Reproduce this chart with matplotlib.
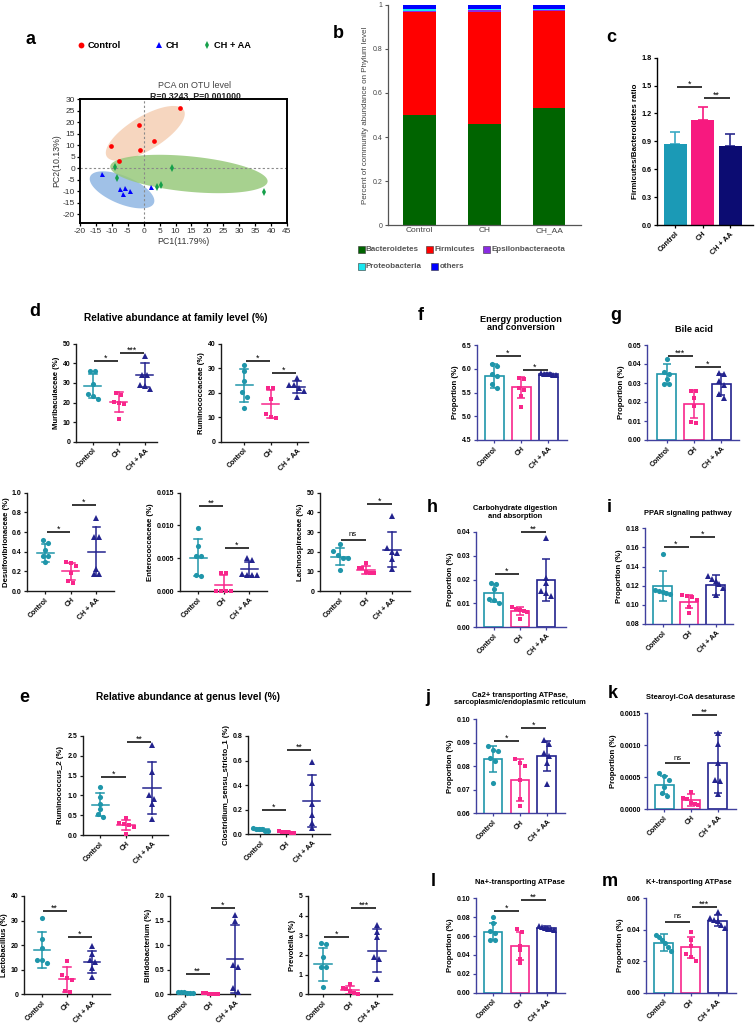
import numpy as np
import matplotlib
matplotlib.use("Agg")
import matplotlib.pyplot as plt
from matplotlib.patches import Rectangle, Polygon

W, H = 756, 1026
plt.rcParams['font.family'] = ['Liberation Sans', 'DejaVu Sans']
plt.rcParams['axes.unicode_minus'] = False

groups = ["Control", "CH", "CH + AA"]

# ---------------- panel a : PCA ----------------
pca_ctrl_x = [11.5, -1.4, 3.1, -10.4, -1.3, -7.8]
pca_ctrl_y = [26.0, 18.7, 12.0, 9.5, 8.0, 3.0]
pca_ch_x = [-13.0, -7.3, -5.8, -4.3, -6.4, 2.3]
pca_ch_y = [-2.3, -9.1, -8.7, -9.9, -11.2, -8.1]
pca_aa_x = [-9.0, -8.4, 8.9, 4.3, 5.5, 37.9]
pca_aa_y = [0.7, -4.1, 0.3, -8.1, -7.3, -10.2]
# ellipse: centre x, centre y, semi-axis 1 (dx, dy), semi-axis 2 (dx, dy)
ell_ctrl = [0.5, 15.2, 12.1, 10.1, 2.7, -6.3]
ell_ch = [-6.8, -9.4, 10.0, -5.8, -1.7, -5.6]
ell_aa = [14.2, -2.5, 24.7, -3.0, -0.5, 7.8]

# ---------------- panel b : phylum composition ----------------
phylum_groups = ["Control", "CH", "CH_AA"]
phyla = ["Bacteroidetes", "Firmicutes", "Epsilonbacteraeota", "Proteobacteria", "others"]
bacteroidetes = [0.500, 0.458, 0.533]
firmicutes = [0.466, 0.508, 0.440]
epsilonbacteraeota = [0.006, 0.009, 0.002]
proteobacteria = [0.010, 0.007, 0.007]
others = [0.018, 0.018, 0.018]

# ---------------- panel c : F/B ratio ----------------
fb_mean = [0.875, 1.135, 0.848]
fb_sd = [0.125, 0.135, 0.135]

# ---------------- panel d : family level ----------------
muri_pts = [[36, 36, 29.5, 24.5, 23.5, 22], [25, 24, 20.5, 20, 19, 11.5], [43.5, 34, 34, 29, 28.5, 27]]
muri_mean = [28.6, 20.4, 34.2]
muri_sd = [6.1, 5.1, 6.1]
rumi_pts = [[31.3, 29, 24.8, 20.2, 18.4, 13.9], [21.8, 21.8, 17.3, 11.5, 10, 9.5], [25.9, 23, 23, 22, 20.5, 18.4]]
rumi_mean = [23.0, 15.3, 22.2]
rumi_sd = [6.7, 5.6, 2.4]
desulfo_pts = [[0.52, 0.49, 0.42, 0.36, 0.36, 0.30], [0.29, 0.28, 0.25, 0.18, 0.10, 0.08], [0.74, 0.55, 0.55, 0.22, 0.17, 0.17]]
desulfo_mean = [0.39, 0.20, 0.40]
desulfo_sd = [0.09, 0.085, 0.25]
entero_pts = [[0.0096, 0.0069, 0.0053, 0.0053, 0.0025, 0.0023], [0.0028, 0.0027, 0, 0, 0, 0], [0.0051, 0.0048, 0.0026, 0.0024, 0.0024, 0.0024]]
entero_mean = [0.0051, 0.0009, 0.0034]
entero_sd = [0.0028, 0.0015, 0.0011]
lachno_pts = [[23.9, 20.3, 18.3, 16.6, 16.6, 10.7], [14.4, 11.5, 11.5, 9.8, 9.3, 9.0], [38.3, 21.7, 20, 19.2, 16.1, 11]]
lachno_mean = [17.4, 10.9, 21.0]
lachno_sd = [4.3, 2.0, 9.0]

# ---------------- panel e : genus level ----------------
rum2_pts = [[1.2, 0.97, 0.78, 0.65, 0.52, 0.45], [0.42, 0.30, 0.28, 0.25, 0.20, 0.03], [2.27, 1.6, 1.01, 0.91, 0.78, 0.4]]
rum2_mean = [0.77, 0.25, 1.18]
rum2_sd = [0.28, 0.13, 0.66]
clos_pts = [[0.05, 0.045, 0.04, 0.04, 0.03, 0.03], [0.025, 0.02, 0.02, 0.015, 0.01, 0.01], [0.59, 0.42, 0.25, 0.16, 0.09, 0.05]]
clos_mean = [0.04, 0.017, 0.27]
clos_sd = [0.01, 0.006, 0.21]
lacto_pts = [[31.2, 22.4, 18.7, 14, 14, 12.6], [13.7, 7.8, 6.5, 6.0, 1.5, 1.0], [19.7, 16.4, 14, 13, 10.6, 7.2]]
lacto_mean = [18.0, 6.1, 13.3]
lacto_sd = [7.5, 5.0, 4.5]
bifido_pts = [[0.05, 0.04, 0.04, 0.03, 0.02, 0.02], [0.02, 0.02, 0.01, 0.01, 0.01, 0.01], [1.61, 1.5, 0.6, 0.56, 0.12, 0.05]]
bifido_mean = [0.033, 0.013, 0.72]
bifido_sd = [0.012, 0.005, 0.69]
prev_pts = [[2.63, 2.54, 1.88, 1.4, 1.37, 0.39], [0.53, 0.3, 0.25, 0.15, 0.06, 0.03], [3.53, 3.19, 2.9, 1.9, 1.78, 0.76]]
prev_mean = [1.53, 0.22, 2.22]
prev_sd = [0.85, 0.18, 1.09]

# ---------------- panels f-m : predicted functions ----------------
energy_pts = [[6.09, 6.06, 5.88, 5.85, 5.67, 5.60], [5.80, 5.79, 5.60, 5.55, 5.43, 5.20], [5.92, 5.90, 5.89, 5.88, 5.87, 5.86]]
energy_mean = [5.85, 5.61, 5.89]
energy_sd = [0.26, 0.22, 0.03]
bile_pts = [[0.0426, 0.036, 0.035, 0.032, 0.0295, 0.0295], [0.0258, 0.0258, 0.022, 0.018, 0.0096, 0.0088], [0.0351, 0.0348, 0.031, 0.029, 0.024, 0.022]]
bile_mean = [0.0347, 0.0189, 0.0293]
bile_sd = [0.0051, 0.0074, 0.0054]
carb_pts = [[0.0187, 0.0181, 0.016, 0.0117, 0.0113, 0.0100], [0.0085, 0.0078, 0.0072, 0.0070, 0.0065, 0.0034], [0.0372, 0.0205, 0.0184, 0.0153, 0.0142, 0.0130]]
carb_mean = [0.0142, 0.0068, 0.0198]
carb_sd = [0.0038, 0.0018, 0.0088]
ppar_pts = [[0.153, 0.116, 0.114, 0.113, 0.112, 0.111], [0.110, 0.109, 0.108, 0.105, 0.098, 0.091], [0.130, 0.127, 0.125, 0.122, 0.118, 0.110]]
ppar_mean = [0.1197, 0.1033, 0.1208]
ppar_sd = [0.016, 0.007, 0.0104]
ca_pts = [[0.0886, 0.0869, 0.0865, 0.0835, 0.0823, 0.073], [0.083, 0.0813, 0.080, 0.074, 0.066, 0.0631], [0.0912, 0.0895, 0.0858, 0.0845, 0.0813, 0.0725]]
ca_mean = [0.0831, 0.0742, 0.0844]
ca_sd = [0.0055, 0.0088, 0.0065]
scd_pts = [[0.00057, 0.00051, 0.00045, 0.00035, 0.00025, 0.00020], [0.00027, 0.00017, 0.00015, 0.00010, 0.00008, 0.00007], [0.00119, 0.00102, 0.00072, 0.00046, 0.00044, 0.00024]]
scd_mean = [0.000376, 0.000141, 0.000726]
scd_sd = [0.000146, 0.00009, 0.00047]
na_pts = [[0.080, 0.0735, 0.065, 0.063, 0.056, 0.056], [0.067, 0.064, 0.050, 0.045, 0.036, 0.031], [0.071, 0.070, 0.069, 0.068, 0.068, 0.066]]
na_mean = [0.0647, 0.0495, 0.0689]
na_sd = [0.0088, 0.0152, 0.0018]
kk_pts = [[0.0367, 0.0355, 0.0335, 0.0315, 0.029, 0.0265], [0.0388, 0.0335, 0.030, 0.0245, 0.0229, 0.0201], [0.0515, 0.0475, 0.0465, 0.0455, 0.043, 0.041]]
kk_mean = [0.0318, 0.0288, 0.0458]
kk_sd = [0.0055, 0.0068, 0.0036]

# significance annotations: (group a, group b, height, label)
muri_sig = [(0, 1, 41.2, '*'), (1, 2, 45.4, '***')]
rumi_sig = [(0, 1, 33.0, '*'), (1, 2, 28.2, '*')]
desulfo_sig = [(0, 1, 0.60, '*'), (1, 2, 0.87, '*')]
entero_sig = [(0, 1, 0.0129, '**'), (1, 2, 0.0065, '*')]
lachno_sig = [(0, 1, 26.0, 'ns'), (1, 2, 44.3, '*')]
rum2_sig = [(0, 1, 1.46, '*'), (1, 2, 2.36, '**')]
clos_sig = [(0, 1, 0.20, '*'), (1, 2, 0.69, '**')]
lacto_sig = [(0, 1, 33.9, '**'), (1, 2, 23.5, '*')]
bifido_sig = [(0, 1, 0.41, '**'), (1, 2, 1.75, '*')]
prev_sig = [(0, 1, 2.9, '*'), (1, 2, 4.37, '***')]
energy_sig = [(0, 1, 6.27, '*'), (1, 2, 5.97, '*')]
bile_sig = [(0, 1, 0.0444, '***'), (1, 2, 0.0386, '*')]
carb_sig = [(0, 1, 0.0222, '*'), (1, 2, 0.040, '**')]
ppar_sig = [(0, 1, 0.1608, '*'), (1, 2, 0.1712, '*')]
ca_sig = [(0, 1, 0.0909, '*'), (1, 2, 0.0962, '*')]
scd_sig = [(0, 1, 0.000716, 'ns'), (1, 2, 0.00148, '**')]
na_sig = [(0, 1, 0.0866, '*'), (1, 2, 0.0982, '**')]
kk_sig = [(0, 1, 0.0452, 'ns'), (1, 2, 0.0543, '***')]
fb_sig = [(0, 1, 1.49, '*'), (1, 2, 1.37, '**')]

# ======================================================================
fig = plt.figure(figsize=(W / 100, H / 100), dpi=100)

GCOL = ['#1f96aa', '#f8268b', '#23238e']
GMARK = ['o', 's', '^']


def add_ax(box):
    l, t, r, b = box
    return fig.add_axes([l / W, 1 - b / H, (r - l) / W, (b - t) / H])


def gp_style(ax, xlim, ylim, ticks, fmt, ylabel, spine='#1a1a1a'):
    ax.set_xlim(*xlim)
    ax.set_ylim(*ylim)
    ax.patch.set_alpha(0)
    for s in ['top', 'right']:
        ax.spines[s].set_visible(False)
    for s in ['left', 'bottom']:
        ax.spines[s].set_color(spine)
        ax.spines[s].set_linewidth(1.0)
    ax.tick_params(direction='out', length=2.5, width=0.9, color=spine, labelcolor='black', pad=1.5)
    ax.set_yticks(ticks, labels=[fmt % t for t in ticks], fontsize=5, fontweight='bold')
    ax.set_xticks([0, 1, 2], labels=groups, rotation=45, ha='right', rotation_mode='anchor',
                  fontsize=5, fontweight='bold')
    ax.set_ylabel(ylabel, fontsize=5.6, fontweight='bold', labelpad=2)


def swarm(ax, i, vals, d=5.0, maxw=15.0):
    trans = ax.transData
    inv = trans.inverted()
    vals = np.asarray(vals, float)
    order = np.argsort(-vals)
    ypx = np.array([trans.transform((i, v))[1] for v in vals])
    x0 = trans.transform((i, 0))[0]
    clusters = []
    for idx in order:
        if clusters and abs(ypx[clusters[-1][-1]] - ypx[idx]) < d * 0.9:
            clusters[-1].append(idx)
        else:
            clusters.append([idx])
    xs = np.zeros(len(vals))
    for cl in clusters:
        n = len(cl)
        step = d if n < 2 else min(d, maxw / (n - 1))
        for k, idx in enumerate(cl):
            off = (k - (n - 1) / 2) * step
            xs[idx] = inv.transform((x0 + off, ypx[idx]))[0]
    return xs


def draw_points(ax, pts, ms=3.7):
    for i, vals in enumerate(pts):
        xs = swarm(ax, i, vals)
        ax.plot(xs, vals, linestyle='none', marker=GMARK[i], color=GCOL[i],
                markersize=ms if GMARK[i] != 's' else ms * 0.95, markeredgewidth=0, zorder=3, clip_on=False)


def draw_sig(ax, sig):
    for a, b, y, txt in sig:
        ax.plot([a + 0.05, b - 0.02], [y, y], color='black', lw=1.1, clip_on=False, zorder=5,
                solid_capstyle='butt')
        if txt == 'ns':
            ax.annotate(txt, xy=((a + b) / 2, y), xytext=(0, 1.0), textcoords='offset points',
                        ha='center', va='bottom', fontsize=5.5, annotation_clip=False)
        else:
            ax.annotate(txt, xy=((a + b) / 2, y), xytext=(0, 0.2), textcoords='offset points',
                        ha='center', va='baseline', fontsize=6.3, annotation_clip=False)


def scatter_panel(box, xlim, ylim, ticks, fmt, ylabel, pts, mean, sd, sig, labelpad=2):
    ax = add_ax(box)
    gp_style(ax, xlim, ylim, ticks, fmt, ylabel)
    ax.yaxis.labelpad = labelpad
    draw_points(ax, pts)
    for i in range(3):
        c = GCOL[i]
        m, s = mean[i], sd[i]
        ax.plot([i - 0.33, i + 0.33], [m, m], color=c, lw=1.1, zorder=4)
        ax.plot([i, i], [max(m - s, ylim[0]), m + s], color=c, lw=1.1, zorder=4)
        ax.plot([i - 0.15, i + 0.15], [m + s, m + s], color=c, lw=1.1, zorder=4)
        if m - s >= ylim[0]:
            ax.plot([i - 0.15, i + 0.15], [m - s, m - s], color=c, lw=1.1, zorder=4)
    draw_sig(ax, sig)
    return ax


def bar_panel(box, xlim, ylim, ticks, fmt, pts, mean, sd, sig):
    ax = add_ax(box)
    gp_style(ax, xlim, ylim, ticks, fmt, 'Proportion (%)', spine='#40409e')
    ax.bar([0, 1, 2], mean, width=0.7, facecolor='white', edgecolor=GCOL, linewidth=1.2, zorder=2)
    draw_points(ax, pts)
    for i in range(3):
        ax.errorbar([i], [mean[i]], yerr=[sd[i]], fmt='none', ecolor=GCOL[i], elinewidth=1.1,
                    capsize=3, capthick=1.1, zorder=4)
    draw_sig(ax, sig)
    return ax


# ---------------- panel a ----------------
axa = add_ax((80, 99.3, 287, 222.7))
axa.set_xlim(-20, 45)
axa.set_ylim(-23.7, 30)
for data, col in [(ell_ctrl, '#f5cfb4'), (ell_ch, '#8fb6e3'), (ell_aa, '#98c97c')]:
    cx, cy, ax1, ay1, bx1, by1 = data
    t = np.linspace(0, 2 * np.pi, 200)
    xs = cx + np.cos(t) * ax1 + np.sin(t) * bx1
    ys = cy + np.cos(t) * ay1 + np.sin(t) * by1
    axa.add_patch(Polygon(np.column_stack([xs, ys]), closed=True, facecolor=col, edgecolor='none',
                          alpha=0.85, zorder=1))
axa.axvline(0, color='#8a8a8a', lw=0.8, ls=(0, (2, 2)), zorder=2)
axa.axhline(0, color='#8a8a8a', lw=0.8, ls=(0, (2, 2)), zorder=2)
axa.plot(pca_ctrl_x, pca_ctrl_y, 'o', color='#ff0000', ms=3.4, mew=0, zorder=3)
axa.plot(pca_ch_x, pca_ch_y, '^', color='#0000ff', ms=3.6, mew=0, zorder=3)
axa.plot(pca_aa_x, pca_aa_y, 'd', color='#15a04a', ms=3.8, mew=0, zorder=3)
for s in axa.spines.values():
    s.set_linewidth(1.4)
    s.set_color('black')
axa.set_xticks(np.arange(-20, 46, 5))
axa.set_yticks(np.arange(-20, 31, 5))
axa.tick_params(direction='out', length=2.5, width=0.9, labelsize=6, labelcolor='#333333', pad=1)
axa.set_xlabel('PC1(11.79%)', fontsize=6.3, color='#333333', labelpad=2)
axa.set_ylabel('PC2(10.13%)', fontsize=6.3, color='#333333', labelpad=1)

# ---------------- panel b ----------------
axb = add_ax((387.7, 4.7, 581, 225.3))
phy_vals = [bacteroidetes, firmicutes, epsilonbacteraeota, proteobacteria, others]
phy_cols = ['#006400', '#ff0000', '#8a2be2', '#19e6ef', '#0000ff']
bottom = np.zeros(3)
for vals, col in zip(phy_vals, phy_cols):
    axb.bar([0, 1, 2], vals, bottom=bottom, width=0.5, color=col, edgecolor='none')
    bottom += np.array(vals)
axb.set_xlim(-0.49, 2.49)
axb.set_ylim(0, 1)
for s in ['top', 'right']:
    axb.spines[s].set_visible(False)
for s in ['left', 'bottom']:
    axb.spines[s].set_color('#555555')
    axb.spines[s].set_linewidth(0.9)
axb.set_yticks([0, 0.2, 0.4, 0.6, 0.8, 1.0], labels=['0', '0.2', '0.4', '0.6', '0.8', '1'])
axb.set_xticks([0, 1, 2], labels=phylum_groups)
axb.tick_params(axis='y', direction='out', length=2.5, color='#555555', labelsize=5, labelcolor='#444444', pad=1)
axb.tick_params(axis='x', length=0, labelsize=6, labelcolor='#444444', pad=1.5)
axb.set_ylabel('Percent of community abundance on Phylum level', fontsize=5.8, color='#444444', labelpad=3)

# ---------------- panel c ----------------
axc = add_ax((657.3, 57.7, 753, 225))
axc.set_xlim(-0.66, 2.83)
axc.set_ylim(0, 1.8)
axc.bar([0, 1, 2], fb_mean, width=0.85, color=['#1b9ab6', '#f7197f', '#0c0c72'], zorder=2)
for i in range(3):
    axc.errorbar([i], [fb_mean[i]], yerr=[[0], [fb_sd[i]]], fmt='none',
                 ecolor=['#3aa9c4', '#f7197f', '#2a2a8c'][i], elinewidth=1.2, capsize=3.6, capthick=1.2, zorder=1)
for s in ['top', 'right']:
    axc.spines[s].set_visible(False)
for s in ['left', 'bottom']:
    axc.spines[s].set_linewidth(1.0)
axc.tick_params(direction='out', length=2.5, width=0.9, pad=1.5)
axc.set_yticks(np.arange(0, 1.81, 0.3), labels=['%.1f' % v for v in np.arange(0, 1.81, 0.3)],
               fontsize=5.2, fontweight='bold')
axc.set_xticks([0, 1, 2], labels=groups, rotation=45, ha='right', rotation_mode='anchor',
               fontsize=5.2, fontweight='bold')
axc.set_ylabel('Firmicutes/Bacteroidetes ratio', fontsize=5.8, fontweight='bold', labelpad=2)
draw_sig(axc, fb_sig)

# ---------------- panel d ----------------
scatter_panel((76, 343.7, 156.7, 441.7), (-0.64, 2.46), (0, 50), np.arange(0, 51, 10), '%d',
              'Muribaculaceae (%)', muri_pts, muri_mean, muri_sd, muri_sig)
scatter_panel((221, 343.7, 308.3, 441.7), (-0.89, 2.44), (0, 40), np.arange(0, 41, 10), '%d',
              'Ruminococcaceae (%)', rumi_pts, rumi_mean, rumi_sd, rumi_sig)
scatter_panel((27, 492.7, 114.3, 591), (-0.72, 2.7), (0, 1.0), np.arange(0, 1.01, 0.2), '%.1f',
              'Desulfovibrionaceae (%)', desulfo_pts, desulfo_mean, desulfo_sd, desulfo_sig, labelpad=1)
scatter_panel((180, 492.7, 266.7, 591), (-0.71, 2.69), (0, 0.015), np.arange(0, 0.0151, 0.005), '%.3f',
              'Enterococcaceae (%)', entero_pts, entero_mean, entero_sd, entero_sig)
scatter_panel((320, 492.7, 410, 591), (-0.77, 2.69), (0, 50), np.arange(0, 51, 10), '%d',
              'Lachnospiraceae (%)', lachno_pts, lachno_mean, lachno_sd, lachno_sig)

# ---------------- panel e ----------------
scatter_panel((82.7, 736, 168.3, 835), (-0.67, 2.63), (0, 2.5), np.arange(0, 2.51, 0.5), '%.1f',
              'Ruminococcus_2 (%)', rum2_pts, rum2_mean, rum2_sd, rum2_sig)
scatter_panel((248.3, 736, 330, 834.3), (-0.47, 2.7), (0, 0.8), np.arange(0, 0.81, 0.2), '%.1f',
              'Clostridium_sensu_stricto_1 (%)', clos_pts, clos_mean, clos_sd, clos_sig)
scatter_panel((24, 896, 110, 994.3), (-0.72, 2.72), (0, 40), np.arange(0, 41, 10), '%d',
              'Lactobacillus (%)', lacto_pts, lacto_mean, lacto_sd, lacto_sig, labelpad=1.5)
scatter_panel((170, 896, 250, 994.3), (-0.6, 2.6), (0, 2.0), np.arange(0, 2.01, 0.5), '%.1f',
              'Bifidobacterium (%)', bifido_pts, bifido_mean, bifido_sd, bifido_sig)
scatter_panel((308, 896, 392, 994.3), (-0.56, 2.56), (0, 5), np.arange(0, 5.1, 1), '%d',
              'Prevotella (%)', prev_pts, prev_mean, prev_sd, prev_sig)

# ---------------- panels f - m ----------------
bar_panel((477.3, 345, 566.7, 440), (-0.63, 2.68), (4.5, 6.5), np.arange(4.5, 6.51, 0.5), '%.1f',
          energy_pts, energy_mean, energy_sd, energy_sig)
bar_panel((646.7, 345, 739.3, 440), (-0.73, 2.66), (0, 0.05), np.arange(0, 0.0501, 0.01), '%.2f',
          bile_pts, bile_mean, bile_sd, bile_sig)
bar_panel((476, 531.7, 565.7, 627.3), (-0.67, 2.74), (0, 0.04), np.arange(0, 0.0401, 0.01), '%.2f',
          carb_pts, carb_mean, carb_sd, carb_sig)
bar_panel((645, 528.3, 733.3, 624), (-0.66, 2.66), (0.08, 0.18), np.arange(0.08, 0.1801, 0.02), '%.2f',
          ppar_pts, ppar_mean, ppar_sd, ppar_sig)
bar_panel((476, 719.3, 565, 813.3), (-0.63, 2.67), (0.06, 0.10), np.arange(0.06, 0.1001, 0.01), '%.2f',
          ca_pts, ca_mean, ca_sd, ca_sig)
bar_panel((646.7, 713.3, 736, 809), (-0.65, 2.68), (0, 0.0015), np.arange(0, 0.00151, 0.0005), '%.4f',
          scd_pts, scd_mean, scd_sd, scd_sig)
bar_panel((476, 898.3, 565, 992.7), (-0.63, 2.67), (0, 0.10), np.arange(0, 0.1001, 0.02), '%.2f',
          na_pts, na_mean, na_sd, na_sig)
bar_panel((646, 898.3, 736, 992.7), (-0.65, 2.68), (0, 0.06), np.arange(0, 0.0601, 0.02), '%.2f',
          kk_pts, kk_mean, kk_sd, kk_sig)

# ---------------- overlay: letters, titles, legends ----------------
ov = fig.add_axes([0, 0, 1, 1], zorder=10)
ov.set_xlim(0, W)
ov.set_ylim(H, 0)
ov.axis('off')
ov.patch.set_alpha(0)

for lab, x, y in [('a', 31, 40), ('b', 338, 33), ('c', 611, 37), ('d', 35, 311), ('e', 24, 697),
                  ('f', 421, 316), ('g', 616, 315), ('h', 432, 508), ('i', 609, 508), ('j', 428, 697),
                  ('k', 613, 693), ('l', 433, 882), ('m', 610, 882)]:
    ov.text(x, y, lab, fontsize=13, fontweight='bold', ha='center', va='center')

# PCA legend
for x, mk, col, txt in [(81, 'o', '#ff0000', 'Control'), (159, '^', '#0000ff', 'CH'), (207, 'd', '#15a04a', 'CH + AA')]:
    ov.plot([x], [45], marker=mk, color=col, ms=4.2, mew=0)
    ov.text(x + 7, 45.5, txt, fontsize=6.7, fontweight='bold', ha='left', va='center')
ov.text(195, 86, 'PCA on OTU level', fontsize=6.5, color='#444444', ha='center', va='center')
ov.text(195, 96, 'R=0.3243, P=0.001000', fontsize=6.3, fontweight='bold', color='#222222', ha='center', va='center')

# phylum legend
for x, y, col, txt in [(361, 249, phy_cols[0], phyla[0]), (429.5, 249, phy_cols[1], phyla[1]),
                       (486, 249, phy_cols[2], phyla[2]), (361, 266, phy_cols[3], phyla[3]),
                       (434.5, 266, phy_cols[4], phyla[4])]:
    ov.add_patch(Rectangle((x - 3.5, y - 3.5), 7, 7, facecolor=col, edgecolor='#333333', lw=0.4))
    ov.text(x + 5, y + 0.3, txt, fontsize=5.8, fontweight='bold', color='#555555', ha='left', va='center')

# section titles
ov.text(176, 318, 'Relative abundance at family level (%)', fontsize=7.3, fontweight='bold', ha='center', va='center')
ov.text(187.5, 697, 'Relative abundance at genus level (%)', fontsize=7.3, fontweight='bold', ha='center', va='center')
ov.text(521, 323.5, 'Energy production\nand conversion', fontsize=6.6, fontweight='bold', ha='center', va='center',
        linespacing=1.0)
ov.text(694, 329, 'Bile acid', fontsize=6.6, fontweight='bold', ha='center', va='center')
ov.text(515, 512.5, 'Carbohydrate digestion\nand absorption', fontsize=5.4, fontweight='bold', ha='center',
        va='center', linespacing=1.05)
ov.text(688, 513.5, 'PPAR signaling pathway', fontsize=5.4, fontweight='bold', ha='center', va='center')
ov.text(520, 699, 'Ca2+ transporting ATPase,\nsarcoplasmic/endoplasmic reticulum', fontsize=5.4,
        fontweight='bold', ha='center', va='center', linespacing=1.05)
ov.text(691, 697.5, 'Stearoyl-CoA desaturase', fontsize=5.4, fontweight='bold', ha='center', va='center')
ov.text(520, 882, 'Na+-transporting ATPase', fontsize=5.4, fontweight='bold', ha='center', va='center')
ov.text(689, 882, 'K+-transporting ATPase', fontsize=5.4, fontweight='bold', ha='center', va='center')

fig.savefig('out.png', dpi=100, facecolor='white')
